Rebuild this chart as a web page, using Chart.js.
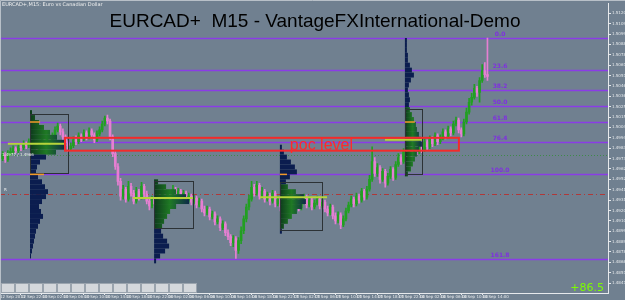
<!DOCTYPE html>
<html>
<head>
<meta charset="utf-8">
<script src="https://cdn.jsdelivr.net/npm/chart.js@4.4.0/dist/chart.umd.min.js"></script>
<style>
html, body { margin: 0; padding: 0; background: #708090; }
#wrap { width: 625px; height: 300px; }
</style>
</head>
<body>
<div id="wrap"><canvas id="c" width="625" height="300"></canvas></div>
<script>
// time axis: one label every 8 bars
var timeLabels = ['12 Sep 2013', '12 Sep 22:00', '13 Sep 02:00', '13 Sep 06:00', '13 Sep 10:00', '13 Sep 14:00',
    '13 Sep 18:00', '13 Sep 22:00', '16 Sep 02:00', '16 Sep 06:00', '16 Sep 10:00', '16 Sep 14:00',
    '16 Sep 18:00', '16 Sep 22:00', '17 Sep 02:00', '17 Sep 06:00', '17 Sep 10:00', '17 Sep 14:00',
    '17 Sep 18:00', '17 Sep 22:00', '18 Sep 02:00', '18 Sep 06:00', '18 Sep 10:00', '18 Sep 14:00'];
var barsPerLabel = 8;
var slotCount = 233; // bars + empty chart shift on the right

var priceTicks = [1.51200, 1.51095, 1.50990, 1.50885, 1.50780, 1.50675, 1.50570, 1.50465, 1.50360,
    1.50255, 1.50150, 1.50045, 1.49940, 1.49835, 1.49730, 1.49625, 1.49520, 1.49415, 1.49310,
    1.49205, 1.49100, 1.48995, 1.48890, 1.48785, 1.48680, 1.48575, 1.48470];
var priceMin = 1.4837, priceMax = 1.5130;

var firstOpen = 1.4975;
var closes = [
    1.4973, 1.4977, 1.4972, 1.4978, 1.4980, 1.4983, 1.4981, 1.4985, 1.4984, 1.4988,
    1.4986, 1.4990, 1.4987, 1.4989, 1.4984, 1.4988, 1.4991, 1.4987, 1.4992, 1.4990,
    1.4996, 1.5002, 1.5006, 1.5000, 1.4995, 1.4989, 1.4983, 1.4986, 1.4992, 1.4990,
    1.4996, 1.4993, 1.4999, 1.4995, 1.5001, 1.4997, 1.4992, 1.4998, 1.5002, 1.5008,
    1.5014, 1.5011, 1.4995, 1.4978, 1.4965, 1.4950, 1.4935, 1.4942, 1.4932, 1.4945,
    1.4938, 1.4930, 1.4940, 1.4934, 1.4945, 1.4937, 1.4930, 1.4925, 1.4932, 1.4927,
    1.4935, 1.4931, 1.4940, 1.4934, 1.4938, 1.4932, 1.4942, 1.4936, 1.4940, 1.4933,
    1.4938, 1.4931, 1.4935, 1.4929, 1.4933, 1.4926, 1.4930, 1.4922, 1.4918, 1.4922,
    1.4914, 1.4917, 1.4909, 1.4912, 1.4903, 1.4907, 1.4898, 1.4894, 1.4888, 1.4892,
    1.4880, 1.4890, 1.4900, 1.4912, 1.4924, 1.4932, 1.4944, 1.4938, 1.4946, 1.4935,
    1.4940, 1.4932, 1.4936, 1.4930, 1.4938, 1.4927, 1.4932, 1.4924, 1.4930, 1.4935,
    1.4927, 1.4932, 1.4925, 1.4931, 1.4923, 1.4929, 1.4934, 1.4926, 1.4931, 1.4924,
    1.4928, 1.4932, 1.4925, 1.4929, 1.4922, 1.4918, 1.4924, 1.4915, 1.4910, 1.4916,
    1.4906, 1.4912, 1.4920, 1.4926, 1.4932, 1.4927, 1.4935, 1.4931, 1.4940, 1.4934,
    1.4942, 1.4952, 1.4970, 1.4958, 1.4964, 1.4952, 1.4960, 1.4948, 1.4955, 1.4962,
    1.4954, 1.4967, 1.4974, 1.4970, 1.4980, 1.4976, 1.4984, 1.4978, 1.4986, 1.4980,
    1.4987, 1.4982, 1.4990, 1.4985, 1.4993, 1.4988, 1.4996, 1.4990, 1.4994, 1.5000,
    1.4996, 1.5003, 1.4999, 1.5008, 1.5012, 1.5002, 1.4998, 1.5010, 1.5020, 1.5030,
    1.5035, 1.5044, 1.5040, 1.5052, 1.5062, 1.5058, 1.5056];
var highs = [
    1.4978, 1.4980, 1.4979, 1.4981, 1.4984, 1.4986, 1.4985, 1.4988, 1.4987, 1.4991,
    1.4990, 1.4993, 1.4992, 1.4992, 1.4991, 1.4990, 1.4994, 1.4993, 1.4995, 1.4994,
    1.4999, 1.5005, 1.5009, 1.5008, 1.5003, 1.4997, 1.4991, 1.4989, 1.4995, 1.4996,
    1.4999, 1.4998, 1.5002, 1.5001, 1.5004, 1.5003, 1.4999, 1.5001, 1.5005, 1.5011,
    1.5016, 1.5017, 1.5013, 1.4997, 1.4980, 1.4968, 1.4953, 1.4946, 1.4944, 1.4950,
    1.4948, 1.4941, 1.4944, 1.4942, 1.4949, 1.4947, 1.4940, 1.4933, 1.4935, 1.4934,
    1.4938, 1.4937, 1.4943, 1.4942, 1.4941, 1.4940, 1.4946, 1.4944, 1.4943, 1.4942,
    1.4941, 1.4940, 1.4938, 1.4937, 1.4936, 1.4935, 1.4933, 1.4932, 1.4925, 1.4925,
    1.4924, 1.4920, 1.4919, 1.4915, 1.4914, 1.4910, 1.4909, 1.4901, 1.4896, 1.4895,
    1.4894, 1.4893, 1.4904, 1.4915, 1.4927, 1.4936, 1.4950, 1.4947, 1.4950, 1.4948,
    1.4944, 1.4942, 1.4939, 1.4938, 1.4941, 1.4940, 1.4935, 1.4934, 1.4933, 1.4938,
    1.4937, 1.4935, 1.4934, 1.4934, 1.4933, 1.4932, 1.4937, 1.4936, 1.4934, 1.4933,
    1.4931, 1.4935, 1.4934, 1.4932, 1.4931, 1.4925, 1.4927, 1.4926, 1.4918, 1.4919,
    1.4918, 1.4915, 1.4923, 1.4929, 1.4935, 1.4934, 1.4938, 1.4937, 1.4943, 1.4942,
    1.4945, 1.4956, 1.4985, 1.4974, 1.4968, 1.4966, 1.4963, 1.4962, 1.4958, 1.4965,
    1.4964, 1.4970, 1.4978, 1.4977, 1.4983, 1.4982, 1.4987, 1.4986, 1.4989, 1.4988,
    1.4990, 1.4989, 1.4993, 1.4992, 1.4996, 1.4995, 1.4999, 1.4998, 1.4997, 1.5003,
    1.5002, 1.5006, 1.5005, 1.5011, 1.5015, 1.5014, 1.5004, 1.5013, 1.5024, 1.5034,
    1.5039, 1.5048, 1.5046, 1.5055, 1.5068, 1.5070, 1.5095];
var lows = [
    1.4970, 1.4971, 1.4969, 1.4970, 1.4976, 1.4978, 1.4979, 1.4979, 1.4981, 1.4982,
    1.4983, 1.4984, 1.4985, 1.4985, 1.4981, 1.4982, 1.4986, 1.4984, 1.4985, 1.4987,
    1.4988, 1.4994, 1.5000, 1.4997, 1.4992, 1.4986, 1.4980, 1.4981, 1.4984, 1.4987,
    1.4988, 1.4990, 1.4991, 1.4992, 1.4993, 1.4994, 1.4989, 1.4990, 1.4996, 1.5000,
    1.5006, 1.5008, 1.4992, 1.4975, 1.4962, 1.4946, 1.4931, 1.4932, 1.4929, 1.4930,
    1.4935, 1.4927, 1.4928, 1.4931, 1.4932, 1.4934, 1.4927, 1.4921, 1.4923, 1.4924,
    1.4925, 1.4928, 1.4929, 1.4931, 1.4932, 1.4929, 1.4930, 1.4933, 1.4934, 1.4930,
    1.4931, 1.4928, 1.4929, 1.4926, 1.4927, 1.4923, 1.4924, 1.4919, 1.4915, 1.4916,
    1.4911, 1.4912, 1.4906, 1.4907, 1.4900, 1.4901, 1.4895, 1.4891, 1.4885, 1.4884,
    1.4872, 1.4877, 1.4887, 1.4897, 1.4909, 1.4921, 1.4930, 1.4935, 1.4936, 1.4932,
    1.4933, 1.4929, 1.4930, 1.4926, 1.4928, 1.4924, 1.4925, 1.4920, 1.4922, 1.4928,
    1.4924, 1.4925, 1.4922, 1.4923, 1.4920, 1.4921, 1.4927, 1.4923, 1.4924, 1.4921,
    1.4922, 1.4926, 1.4922, 1.4923, 1.4919, 1.4915, 1.4916, 1.4912, 1.4907, 1.4908,
    1.4902, 1.4904, 1.4910, 1.4918, 1.4924, 1.4924, 1.4925, 1.4928, 1.4929, 1.4931,
    1.4932, 1.4940, 1.4950, 1.4955, 1.4955, 1.4948, 1.4950, 1.4944, 1.4946, 1.4953,
    1.4951, 1.4952, 1.4965, 1.4967, 1.4968, 1.4973, 1.4974, 1.4975, 1.4976, 1.4977,
    1.4978, 1.4979, 1.4980, 1.4982, 1.4983, 1.4985, 1.4986, 1.4987, 1.4988, 1.4992,
    1.4993, 1.4994, 1.4996, 1.4997, 1.5006, 1.4999, 1.4995, 1.4996, 1.5008, 1.5018,
    1.5027, 1.5033, 1.5036, 1.5030, 1.5050, 1.5055, 1.5052];

// fibonacci retracement
var fibHigh = 1.5095, fibLow = 1.4957;
var fibLevels = [0, 23.6, 38.2, 50, 61.8, 76.4, 100, 161.8];
var fibLabelSlot = 190.8;

// volume profiles (tick volume per 5-pip bin, from the top price down)
var profileBase = [11.45, 58.8, 106.8, 154.5];
var profileTop = [1.5022, 1.4952, 1.4987, 1.5095];
var profileGreenTop = [1.5022, 1.4950, 1.4949, 1.5023];
var profileGreenBottom = [1.4978, 1.4903, 1.4901, 1.4957];
var profile1 = [2, 5, 9, 14, 20, 27, 34, 36, 26, 16, 10, 7, 6, 8, 12, 15, 18, 16, 12, 9, 11, 13, 10, 8, 6, 5, 4, 3, 2, 1];
var profile2 = [4, 12, 22, 32, 35, 22, 16, 13, 10, 8, 7, 9, 13, 15, 11, 6, 2];
var profile3 = [2, 4, 7, 11, 15, 17, 10, 6, 8, 16, 24, 26, 22, 17, 12, 8, 4, 2];
var profile4 = [2, 2, 2, 3, 3, 5, 7, 9, 6, 4, 3, 4, 5, 4, 5, 7, 9, 11, 12, 14, 16, 17, 14, 12, 10, 8, 6, 3];
var profileVols = [profile1, profile2, profile3, profile4];
var binStep = 0.0005;
var volToSlots = 0.3815;

// session boxes
var boxStart = [11.45, 58.8, 106.8, 154.5];
var boxEnd = [26, 73.6, 122.8, 161];
var boxTop = [1.5018, 1.4950, 1.4949, 1.5023];
var boxBottom = [1.4958, 1.4903, 1.4901, 1.4957];

// point of control lines
var pocPrice = [1.4988, 1.4933, 1.4934, 1.4992];
var pocFrom = [3, 50.7, 99.2, 146.9];
var pocTo = [24.8, 73.6, 124.8, 161];

// value area marks
var vaPrice = [1.5010, 1.4957, 1.4957, 1.5010];
var vaFrom = [11.45, 11.45, 106.8, 154.5];
var vaTo = [15.3, 16.8, 109.5, 158.3];

// poc level zone
var zoneFrom = 24.8, zoneTo = 175.1, zoneTop = 1.4994, zoneBottom = 1.4981;
var zoneLabelSlot = 110.6, zoneLabelPrice = 1.4982;
var redLinePrice = 1.4937;
var bidLinePrice = 1.4977;

var upColor = '#22a022';
var downColor = '#e67fd2';
var axisColor = '#e6e9ec';

var bodies = closes.map(function (c, i) {
    return [i ? closes[i - 1] : firstOpen, c];
});
var wicks = closes.map(function (c, i) {
    return [lows[i], highs[i]];
});
var barColors = closes.map(function (c, i) {
    var o = i ? closes[i - 1] : firstOpen;
    return c >= o ? upColor : downColor;
});
var slots = [];
for (var s = 0; s < slotCount; s++) {
    slots.push(s % barsPerLabel === 0 && s / barsPerLabel < timeLabels.length ? timeLabels[s / barsPerLabel] : '');
}

function hLine(c, y, a, price, color, width, dash) {
    var py = Math.round(y.getPixelForValue(price)) + 0.5;
    c.strokeStyle = color;
    c.lineWidth = width;
    c.setLineDash(dash || []);
    c.beginPath();
    c.moveTo(a.left, py);
    c.lineTo(a.right, py);
    c.stroke();
    return py;
}

var overlay = {
    id: 'overlay',
    beforeDraw: function (chart) {
        var c = chart.ctx;
        c.save();
        c.fillStyle = '#708090';
        c.fillRect(0, 0, chart.width, chart.height);
        c.restore();
    },
    beforeDatasetsDraw: function (chart) {
        var c = chart.ctx, x = chart.scales.x, y = chart.scales.y, a = chart.chartArea;
        c.save();
        hLine(c, y, a, bidLinePrice, '#3f8a4a', 1, [1, 2]);
        hLine(c, y, a, redLinePrice, '#b03838', 1, [5, 3, 1, 3]);
        c.font = 'bold 6px "DejaVu Sans", sans-serif';
        c.textAlign = 'center';
        c.textBaseline = 'bottom';
        fibLevels.forEach(function (l) {
            var p = fibHigh - (fibHigh - fibLow) * l / 100;
            var py = hLine(c, y, a, p, '#8a3ce6', 1.5);
            c.fillStyle = '#7f2fe0';
            c.fillText(l.toFixed(1), x.getPixelForValue(fibLabelSlot), py - 1);
        });
        c.restore();
    },
    afterDatasetsDraw: function (chart) {
        var c = chart.ctx, x = chart.scales.x, y = chart.scales.y, a = chart.chartArea;
        c.save();
        c.setLineDash([]);
        // volume profiles
        profileVols.forEach(function (vols, n) {
            var x0 = x.getPixelForValue(profileBase[n]);
            var maxW = x.getPixelForValue(profileBase[n] + Math.max.apply(null, vols) * volToSlots) - x0;
            var g = c.createLinearGradient(x0, 0, x0 + maxW, 0);
            g.addColorStop(0, '#0d3a1c');
            g.addColorStop(0.45, '#1f7a24');
            g.addColorStop(1, '#0d2a48');
            vols.forEach(function (v, k) {
                var pTop = profileTop[n] - k * binStep;
                var pMid = pTop - binStep / 2;
                var yt = y.getPixelForValue(pTop);
                var yb = y.getPixelForValue(pTop - binStep);
                var x1 = x.getPixelForValue(profileBase[n] + v * volToSlots);
                var green = pMid <= profileGreenTop[n] && pMid >= profileGreenBottom[n];
                c.fillStyle = green ? g : '#0b1d4f';
                c.fillRect(x0, yt, x1 - x0, yb - yt);
            });
        });
        // boxes
        c.strokeStyle = '#2c3236';
        c.lineWidth = 1;
        boxStart.forEach(function (b, n) {
            var x0 = Math.round(x.getPixelForValue(b)) + 0.5;
            var x1 = Math.round(x.getPixelForValue(boxEnd[n])) + 0.5;
            var y0 = Math.round(y.getPixelForValue(boxTop[n])) + 0.5;
            var y1 = Math.round(y.getPixelForValue(boxBottom[n])) + 0.5;
            c.strokeRect(x0, y0, x1 - x0, y1 - y0);
        });
        // poc lines
        c.lineWidth = 2;
        pocPrice.forEach(function (p, n) {
            var py = y.getPixelForValue(p);
            c.strokeStyle = '#b6d43a';
            c.beginPath();
            c.moveTo(x.getPixelForValue(pocFrom[n]), py);
            c.lineTo(x.getPixelForValue(pocTo[n]), py);
            c.stroke();
        });
        // value area marks
        c.lineWidth = 1.5;
        c.strokeStyle = '#f29a2a';
        vaPrice.forEach(function (p, n) {
            var py = y.getPixelForValue(p);
            c.beginPath();
            c.moveTo(x.getPixelForValue(vaFrom[n]), py);
            c.lineTo(x.getPixelForValue(vaTo[n]), py);
            c.stroke();
        });
        // poc level zone
        var zx0 = x.getPixelForValue(zoneFrom), zx1 = x.getPixelForValue(zoneTo);
        var zy0 = y.getPixelForValue(zoneTop), zy1 = y.getPixelForValue(zoneBottom);
        c.strokeStyle = '#f42a2a';
        c.lineWidth = 2;
        c.strokeRect(zx0, zy0, zx1 - zx0, zy1 - zy0);
        c.fillStyle = '#ff2a2a';
        c.font = '16px "Liberation Sans", Arial, sans-serif';
        c.textAlign = 'left';
        c.textBaseline = 'alphabetic';
        c.fillText('poc level', x.getPixelForValue(zoneLabelSlot), y.getPixelForValue(zoneLabelPrice));
        c.restore();
    },
    afterDraw: function (chart) {
        var c = chart.ctx, y = chart.scales.y, a = chart.chartArea;
        c.save();
        // title
        c.fillStyle = '#000';
        c.font = '19px "Liberation Sans", Arial, sans-serif';
        c.textAlign = 'center';
        c.textBaseline = 'alphabetic';
        c.fillText('EURCAD+  M15 - VantageFXInternational-Demo', 315, 27);
        // small caption
        c.fillStyle = '#f0f0f0';
        c.font = '5px "DejaVu Sans", sans-serif';
        c.textAlign = 'left';
        c.textBaseline = 'top';
        c.fillText('EURCAD+,M15: Euro vs Canadian Dollar', 2, 2);
        c.textBaseline = 'middle';
        c.font = '4px "DejaVu Sans", sans-serif';
        c.fillText('1.4977 / 1.4966', 2, y.getPixelForValue(bidLinePrice));
        c.fillText('R', 4, y.getPixelForValue(redLinePrice) - 4);
        // indicator cells bottom left
        c.fillStyle = '#d4d8dc';
        c.strokeStyle = '#9aa4ae';
        c.lineWidth = 1;
        for (var k = 0; k < 14; k++) {
            c.fillRect(a.left + 1 + k * 14, a.bottom - 10, 13, 9);
            c.strokeRect(a.left + 1.5 + k * 14, a.bottom - 9.5, 13, 9);
        }
        // profit
        c.fillStyle = '#7cfc00';
        c.font = '11px "DejaVu Sans", sans-serif';
        c.textAlign = 'right';
        c.textBaseline = 'alphabetic';
        c.fillText('+86.5', a.right - 4, a.bottom - 2);
        // window border
        c.strokeStyle = '#b8c0c8';
        c.beginPath();
        c.moveTo(0.5, chart.height);
        c.lineTo(0.5, 0.5);
        c.lineTo(chart.width, 0.5);
        c.stroke();
        c.restore();
    }
};

new Chart(document.getElementById('c').getContext('2d'), {
    type: 'bar',
    data: {
        labels: slots,
        datasets: [{
            label: 'range',
            data: wicks,
            backgroundColor: barColors,
            borderWidth: 0,
            barThickness: 1,
            grouped: false
        }, {
            label: 'body',
            data: bodies,
            backgroundColor: barColors,
            borderWidth: 0,
            barThickness: 2,
            grouped: false
        }]
    },
    options: {
        responsive: false,
        animation: false,
        devicePixelRatio: 1,
        layout: { padding: 0 },
        plugins: {
            legend: { display: false },
            tooltip: { enabled: false },
            title: { display: false }
        },
        scales: {
            x: {
                type: 'category',
                offset: false,
                grid: { display: true, offset: false, drawOnChartArea: false, drawTicks: true, tickLength: 2, color: axisColor },
                border: { color: axisColor },
                afterBuildTicks: function (scale) {
                    scale.ticks = scale.ticks.filter(function (t) {
                        return t.value % barsPerLabel === 0 && t.value / barsPerLabel < timeLabels.length;
                    });
                },
                ticks: {
                    autoSkip: false,
                    maxRotation: 0,
                    minRotation: 0,
                    align: 'start',
                    padding: 0,
                    color: axisColor,
                    font: { size: 4, family: '"DejaVu Sans", sans-serif' },
                    callback: function (value) {
                        return timeLabels[value / barsPerLabel];
                    }
                },
                afterFit: function (scale) { scale.height = 7; }
            },
            y: {
                position: 'right',
                min: priceMin,
                max: priceMax,
                grid: { drawOnChartArea: false, drawTicks: true, tickLength: 3, color: axisColor },
                border: { color: axisColor },
                afterBuildTicks: function (scale) {
                    scale.ticks = priceTicks.map(function (v) { return { value: v }; });
                },
                ticks: {
                    autoSkip: false,
                    padding: 1,
                    color: axisColor,
                    font: { size: 4, family: '"DejaVu Sans", sans-serif' },
                    callback: function (value) { return value.toFixed(5); }
                },
                afterFit: function (scale) { scale.width = 17; }
            }
        }
    },
    plugins: [overlay]
});
</script>
</body>
</html>
